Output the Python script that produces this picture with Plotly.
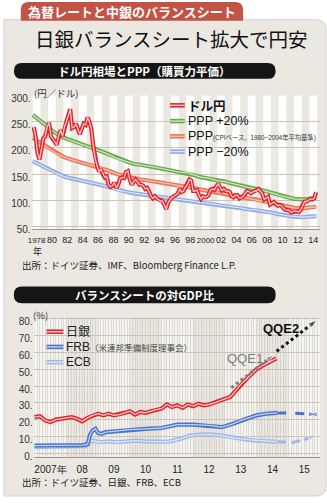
import plotly.graph_objects as go

W, H = 327, 503
def px(x): return x / W
def py(y): return 1 - y / H

# ---------------- Chart 1 data: USD/JPY (quarterly) and PPP ----------------
yen_years = list(range(1978, 2015))
usdjpy = [
    240, 222, 190, 178,   # 1978
    198, 218, 222, 240,   # 1979
    248, 222, 218, 212,   # 1980
    206, 224, 234, 222,   # 1981
    240, 250, 262, 274,   # 1982
    238, 240, 246, 234,   # 1983
    226, 236, 246, 244,   # 1984
    258, 250, 236, 204,   # 1985
    180, 166, 155, 160,   # 1986
    150, 144, 146, 130,   # 1987
    126, 128, 134, 124,   # 1988
    130, 142, 144, 143,   # 1989
    154, 156, 140, 130,   # 1990
    136, 140, 136, 130,   # 1991
    130, 128, 122, 124,   # 1992
    118, 108, 104, 108,   # 1993
    104, 102, 99, 99,     # 1994
    92, 84, 96, 102,      # 1995
    106, 108, 110, 113,   # 1996
    122, 116, 118, 126,   # 1997
    130, 140, 138, 118,   # 1998
    118, 120, 110, 103,   # 1999
    108, 106, 107, 110,   # 2000
    120, 122, 120, 126,   # 2001
    132, 125, 119, 122,   # 2002
    118, 118, 116, 108,   # 2003
    106, 110, 110, 104,   # 2004
    105, 108, 112, 118,   # 2005
    117, 114, 116, 118,   # 2006
    118, 122, 117, 113,   # 2007
    102, 105, 107, 92,    # 2008
    94, 97, 93, 90,       # 2009
    91, 90, 85, 82,       # 2010
    82, 81, 77, 78,       # 2011
    80, 79, 78, 82,       # 2012
    92, 98, 98, 100,      # 2013
    103, 102, 104, 116,   # 2014
]
yen_x = [y + (q + 0.5) / 4 for y in yen_years for q in range(4)]

ppp_x = list(range(1978, 2015)) + [2014.9]
ppp_mid = [219, 210, 200, 190, 183, 178, 174, 170, 166, 161, 156, 150, 146, 142,
           140, 138, 136, 133, 131, 128, 126, 123, 120, 118, 115, 113, 110, 107,
           104, 102, 99, 96, 92, 89, 86, 85, 86, 88]
ppp_up = [263, 252, 240, 228, 220, 214, 209, 204, 199, 193, 187, 180, 175, 170,
          168, 166, 163, 160, 157, 154, 153, 148, 144, 142, 138, 136, 132, 128,
          125, 122, 119, 115, 110, 107, 103, 102, 103, 106]
ppp_dn = [175, 168, 160, 152, 146, 142, 139, 136, 133, 129, 125, 120, 117, 114,
          112, 110, 108, 107, 105, 103, 101, 98, 96, 94, 92, 90, 88, 86,
          83, 82, 79, 77, 74, 71, 69, 68, 69, 70]

x1_ticks = list(range(1978, 2015, 2))
x1_labels = ["1978", "80", "82", "84", "86", "88", "90", "92", "94", "96", "98",
             "2000", "02", "04", "06", "08", "10", "12", "14"]
y1_ticks = [50, 100, 150, 200, 250, 300]

# ---------------- Chart 2 data: balance sheet / GDP ----------------
boj_x = [2007.0, 2007.17, 2007.33, 2007.5, 2007.67, 2007.83, 2008.0, 2008.17, 2008.33,
         2008.5, 2008.67, 2008.83, 2009.0, 2009.17, 2009.33, 2009.5, 2009.67, 2009.83,
         2010.0, 2010.17, 2010.33, 2010.5, 2010.67, 2010.83, 2011.0, 2011.17, 2011.33,
         2011.5, 2011.67, 2011.83, 2012.0, 2012.17, 2012.33, 2012.5, 2012.67, 2012.83,
         2013.0, 2013.17, 2013.33, 2013.5, 2013.67, 2013.83, 2014.0, 2014.17, 2014.33,
         2014.5, 2014.62]
boj = [21.5, 22, 19.5, 18.5, 20, 20.5, 21, 21.5, 20.5,
       19, 21, 22.5, 23.5, 22.5, 23.5, 22.5, 23, 24,
       25, 23, 24.5, 24, 25, 26, 26.5, 29, 27.5,
       28.5, 27, 29, 28, 29.5, 28.5, 29, 30, 31,
       32, 33.5, 37, 41, 44, 47, 50, 52, 53.5,
       55, 56.5]
frb_x = [2007.0, 2007.5, 2008.0, 2008.5, 2008.67, 2008.75, 2008.83, 2008.92, 2009.0,
         2009.1, 2009.25, 2009.5, 2009.75, 2010.0, 2010.5, 2011.0, 2011.5, 2012.0,
         2012.5, 2012.9, 2013.25, 2013.5, 2013.75, 2014.0, 2014.3, 2014.65]
frb = [4.5, 4.5, 4.8, 4.8, 5.2, 11, 13.5, 14.5, 12,
       11.5, 12.5, 13, 13.5, 14, 14.5, 15, 17, 17,
       16.5, 15.5, 17.5, 19.5, 21, 22.5, 23.5, 24]
ecb_x = [2007.0, 2007.5, 2008.0, 2008.6, 2008.75, 2008.9, 2009.1, 2009.3, 2009.6,
         2009.9, 2010.2, 2010.5, 2010.9, 2011.2, 2011.6, 2011.9, 2012.2, 2012.5,
         2012.9, 2013.3, 2013.7, 2014.0, 2014.3, 2014.65]
ecb = [3.5, 3.5, 4, 4.2, 7.5, 7.2, 6.5, 7, 6.5,
       7, 7.5, 7, 7, 6.8, 8.5, 10.5, 11, 11.2,
       10.5, 9, 8, 7.5, 7, 6.8]
frb_proj_x = [2014.65, 2015.2, 2015.9]
frb_proj = [24, 23.8, 23]
ecb_proj_x = [2014.65, 2015.1, 2015.5, 2015.9]
ecb_proj = [6.8, 6.2, 8, 10.8]
qqe1_x = [2013.2, 2014.55]
qqe1 = [39, 58.7]
qqe2_x = [2014.63, 2015.9]
qqe2 = [60.7, 79.3]

x2_ticks = [2007.5 + i for i in range(9)]
x2_labels = ["2007年", "08", "09", "10", "11", "12", "13", "14", "15"]
y2_ticks = [0, 10, 20, 30, 40, 50, 60, 70, 80]

# ---------------- colours ----------------
BG = "#ebe8e2"
STRIPE_GRAY = "#e1ddd5"
RED, RED_IN = "#e2232b", "#ffc9c9"
GREEN, GREEN_IN = "#6aaa4e", "#cfe6c2"
SALMON, SALMON_IN = "#ec7459", "#f9c3b4"
LBLUE, LBLUE_IN = "#90a9e2", "#dbe4f8"
BLUE, BLUE_IN = "#4a74c9", "#c3d2f2"
EBLUE, EBLUE_IN = "#a3b8e6", "#dde6f7"

fig = go.Figure()

def dline(x, y, c_out, c_in, xa="x", ya="y", w=4.2, wi=1.3):
    fig.add_trace(go.Scatter(x=x, y=y, mode="lines", xaxis=xa, yaxis=ya,
                             line=dict(color=c_out, width=w), hoverinfo="skip",
                             showlegend=False))
    fig.add_trace(go.Scatter(x=x, y=y, mode="lines", xaxis=xa, yaxis=ya,
                             line=dict(color=c_in, width=wi), hoverinfo="skip",
                             showlegend=False))

dline(ppp_x, ppp_dn, LBLUE, LBLUE_IN)
dline(ppp_x, ppp_mid, SALMON, SALMON_IN)
dline(ppp_x, ppp_up, GREEN, GREEN_IN)
dline(yen_x, usdjpy, RED, RED_IN)

# chart 2
dline(ecb_x, ecb, EBLUE, EBLUE_IN, "x2", "y2")
dline(frb_x, frb, BLUE, BLUE_IN, "x2", "y2")
dline(boj_x, boj, RED, RED_IN, "x2", "y2")

def arrow(x, y, color, dash, width=2.6, size=9):
    fig.add_trace(go.Scatter(x=x, y=y, mode="lines+markers", xaxis="x2", yaxis="y2",
                             line=dict(color=color, width=width, dash=dash),
                             marker=dict(symbol="arrow", angleref="previous",
                                         size=[0] * (len(x) - 1) + [size], color=color),
                             hoverinfo="skip", showlegend=False))

arrow(frb_proj_x, frb_proj, BLUE, "dash", 3)
arrow(ecb_proj_x, ecb_proj, EBLUE, "dash", 3)
arrow(qqe1_x, qqe1, "#808080", "dot", 3)
arrow(qqe2_x, qqe2, "#111111", "dot", 3)

shapes = []
annotations = []

def P(xp, yp):
    return f"{px(xp):.5f},{py(yp):.5f}"

def rrect(x0, y0, x1, y1, r, tl=True, tr=True, br=True, bl=True):
    s = f"M {P(x0 + (r if tl else 0), y0)} "
    s += f"L {P(x1 - (r if tr else 0), y0)} "
    if tr:
        s += f"Q {P(x1, y0)} {P(x1, y0 + r)} "
    s += f"L {P(x1, y1 - (r if br else 0))} "
    if br:
        s += f"Q {P(x1, y1)} {P(x1 - r, y1)} "
    s += f"L {P(x0 + (r if bl else 0), y1)} "
    if bl:
        s += f"Q {P(x0, y1)} {P(x0, y1 - r)} "
    s += f"L {P(x0, y0 + (r if tl else 0))} "
    if tl:
        s += f"Q {P(x0, y0)} {P(x0 + r, y0)} "
    return s + "Z"

# page panel
shapes.append(dict(type="path", xref="paper", yref="paper", layer="below",
                   path=rrect(0, 18, 326, 502, 10, tl=False, bl=False),
                   fillcolor=BG, line=dict(color="#d8d3cb", width=1)))
# red tab
shapes.append(dict(type="path", xref="paper", yref="paper", layer="below",
                   path=rrect(17, 0, 242, 19, 8, br=False, bl=False),
                   fillcolor="#c25447", line=dict(width=0)))
# black bars
for y0, y1 in [(62, 78), (289, 306)]:
    shapes.append(dict(type="path", xref="paper", yref="paper", layer="below",
                       path=rrect(10, y0, 275, y1, 8), fillcolor="#151515",
                       line=dict(width=0)))

# stripes chart 1 (white on even years)
for yr in range(1978, 2016, 2):
    shapes.append(dict(type="rect", xref="x", yref="y domain", x0=yr, x1=min(yr + 1, 2015.39),
                       y0=0, y1=1, fillcolor="#ffffff", line=dict(width=0), layer="below"))
# stripes chart 2 (lighter on odd years)
for yr in range(2007, 2016, 2):
    shapes.append(dict(type="rect", xref="x2", yref="y2 domain", x0=yr, x1=yr + 1,
                       y0=0, y1=1, fillcolor="#f6f4f0", line=dict(width=0), layer="below"))

# legends
def leg_sample(x0, x1, y, c_out, c_in):
    shapes.append(dict(type="line", xref="paper", yref="paper", x0=px(x0), x1=px(x1),
                       y0=py(y), y1=py(y), line=dict(color=c_out, width=4.5)))
    shapes.append(dict(type="line", xref="paper", yref="paper", x0=px(x0), x1=px(x1),
                       y0=py(y), y1=py(y), line=dict(color=c_in, width=1.4)))

JP = "Noto Sans CJK JP, sans-serif"
SANS = "Liberation Sans, Arial, sans-serif"

def text(x, y, t, size, color="#111", font=JP, anchor="left", bold=False):
    if bold:
        t = f"<b>{t}</b>"
    annotations.append(dict(x=px(x), y=py(y), xref="paper", yref="paper", text=t,
                            showarrow=False, xanchor=anchor, yanchor="middle",
                            font=dict(size=size, color=color, family=font)))

leg1 = [("ドル円", RED, RED_IN, 105),
        ("PPP +20%", GREEN, GREEN_IN, 121),
        ("PPP<span style='font-size:6.3px;color:#333'>(CPIベース、1980~2004年平均基準)</span>",
         SALMON, SALMON_IN, 136.5),
        ("PPP −20%", LBLUE, LBLUE_IN, 152)]
for t, co, ci, y in leg1:
    leg_sample(168, 183, y, co, ci)
    text(184, y, t, 12.5, "#111", JP if "ドル" in t else "Liberation Sans, Noto Sans CJK JP",
         bold=("ドル" in t))

leg2 = [("日銀", RED, RED_IN, 335),
        ("FRB<span style='font-size:8.5px;color:#444'>（米連邦準備制度理事会）</span>", BLUE, BLUE_IN, 350.5),
        ("ECB", EBLUE, EBLUE_IN, 366)]
for t, co, ci, y in leg2:
    leg_sample(43, 60, y, co, ci)
    text(61, y, t, 12, "#222", "Liberation Sans, Noto Sans CJK JP")

# titles
text(130, 10, "為替レートと中銀のバランスシート", 13, "#ffffff", JP, "center", True)
text(29, 37, "日銀バランスシート拡大で円安", 19.5, "#111", "Noto Sans CJK JP", "left")
text(142, 70, "ドル円相場とPPP（購買力平価）", 11.5, "#ffffff", JP, "center", True)
text(142, 297.5, "バランスシートの対GDP比", 11.5, "#ffffff", JP, "center", True)
text(28, 92, "(円／ドル)", 9.5, "#333", JP)
text(27, 318, "(%)", 9.5, "#333", JP)
text(34, 254, "年", 9, "#222", JP, "center")
text(16, 267, "出所：ドイツ証券、IMF、Bloomberg Finance L.P.", 9.5, "#222", JP)
text(16, 488, "出所：ドイツ証券、日銀、FRB、ECB", 9.5, "#222", JP)

annotations.append(dict(x=2013.62, y=56.5, xref="x2", yref="y2", text="QQE1",
                        showarrow=False, font=dict(size=13, color="#7a7a7a", family=SANS)))
annotations.append(dict(x=2014.78, y=74.5, xref="x2", yref="y2", text="<b>QQE2</b>",
                        showarrow=False, font=dict(size=13, color="#111", family=SANS)))

TICKF = dict(size=9, color="#222", family="Liberation Sans, Arial, sans-serif")
TICKF2 = dict(size=10, color="#222", family="Liberation Sans, Arial, sans-serif")
YTF = dict(size=10, color="#333", family=SANS)

x1_text = [f"<span style='font-size:8px'>{t}</span>" if len(t) == 4 else t
           for t in x1_labels]

fig.update_layout(
    width=W, height=H, margin=dict(l=0, r=0, t=0, b=0),
    paper_bgcolor="#ffffff", plot_bgcolor=STRIPE_GRAY,
    shapes=shapes, annotations=annotations, showlegend=False,
    xaxis=dict(domain=[px(28), px(320)], range=[1977.86, 2015.39],
               tickmode="array", tickvals=[t + 0.5 for t in x1_ticks], ticktext=x1_text,
               tickfont=TICKF, tickangle=0, showgrid=False, zeroline=False, ticks="",
               showline=True, linecolor="#9a958d", linewidth=1, anchor="y",
               ticklabelstandoff=2),
    yaxis=dict(domain=[py(231), py(95)], range=[45, 300],
               tickmode="array", tickvals=y1_ticks, ticktext=[f"{v}." for v in y1_ticks],
               tickfont=YTF, showgrid=True, gridcolor="#c8c3bb", gridwidth=1,
               zeroline=False, ticks="", anchor="x", ticklabelshift=3, ticklabelstandoff=0),
    xaxis2=dict(domain=[px(30), px(320)], range=[2006.97, 2016.0],
                tickmode="array", tickvals=x2_ticks, ticktext=x2_labels,
                tickfont=TICKF2, tickangle=0, showgrid=False, zeroline=False, ticks="",
                showline=True, linecolor="#9a958d", linewidth=1, anchor="y2",
                minor=dict(dtick=1 / 12, tick0=2007, showgrid=True,
                           gridcolor="rgba(200,195,187,0.55)", gridwidth=0.6),
                ticklabelstandoff=3),
    yaxis2=dict(domain=[py(462.7), py(320)], range=[-2.5, 81.2],
                tickmode="array", tickvals=y2_ticks, ticktext=[f"{v}." for v in y2_ticks],
                tickfont=YTF, showgrid=True, gridcolor="#c8c3bb", gridwidth=1,
                zeroline=False, ticks="", anchor="x2", ticklabelshift=3, ticklabelstandoff=0),
)

fig.write_html("out.html")
